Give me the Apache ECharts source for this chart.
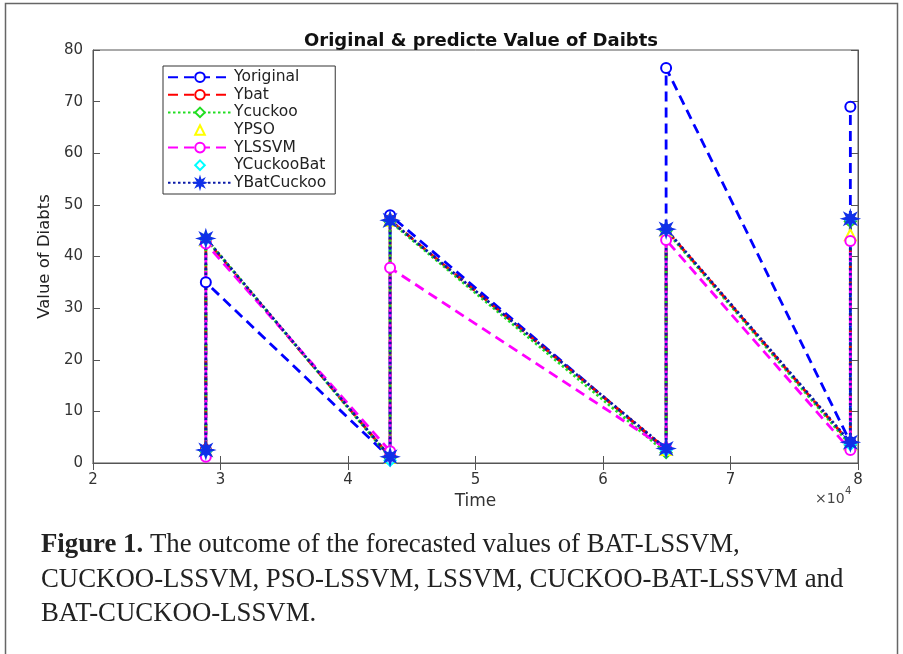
<!DOCTYPE html>
<html>
<head>
<meta charset="utf-8">
<script src="https://cdn.jsdelivr.net/npm/echarts@6/dist/echarts.min.js"></script>
<style>
  html, body { margin: 0; padding: 0; background: #fff; }
  #chart { width: 903px; height: 654px; }
</style>
</head>
<body>
<div id="chart"></div>
<script>
// Sample times: each pair marks a jump (low value, then high value) at the same time
const times = [28850, 28850, 43300, 43300, 64950, 64950, 79400, 79400];

const yOriginal   = [2.5, 35.0, 1.0, 48.0, 2.5, 76.5, 4.0, 69.0];
const yBat        = [2.5, 43.3, 1.2, 47.0, 2.7, 45.2, 3.8, 47.0];
const yCuckoo     = [2.3, 43.5, 1.0, 46.8, 2.0, 45.0, 3.5, 46.8];
const yPSO        = [2.4, 43.2, 1.1, 47.0, 2.6, 45.0, 3.7, 44.2];
const yLSSVM      = [1.2, 42.5, 2.3, 37.8, 2.8, 43.2, 2.5, 43.0];
const yCuckooBat  = [2.4, 43.4, 0.5, 47.0, 2.5, 45.3, 3.6, 47.2];
const yBatCuckoo  = [2.5, 43.5, 1.2, 47.0, 2.8, 45.3, 4.0, 47.3];

const xTicks = [2, 3, 4, 5, 6, 7, 8];          // in units of 10^4
const yTicks = [0, 10, 20, 30, 40, 50, 60, 70, 80];

const pairs = vals => times.map((t, i) => [t, vals[i]]);

// eight-pointed filled star for the asterisk marker
const STAR = 'path://M10 0 L4.2 1.7 L7.07 7.07 L1.7 4.2 L0 10 L-1.7 4.2 L-7.07 7.07 L-4.2 1.7 L-10 0 L-4.2 -1.7 L-7.07 -7.07 L-1.7 -4.2 L0 -10 L1.7 -4.2 L7.07 -7.07 L4.2 -1.7 Z';

const DASH = [10, 6];
const DOT = [2.5, 2.5];

const seriesDefs = [
  { name: 'Yoriginal',  data: yOriginal,  color: '#0000ff', dash: DASH, symbol: 'emptyCircle',  size: 10, line: true },
  { name: 'Ybat',       data: yBat,       color: '#ff0000', dash: DASH, symbol: 'emptyCircle',  size: 10, line: true },
  { name: 'Ycuckoo',    data: yCuckoo,    color: '#22dd22', dash: DOT,  symbol: 'emptyDiamond', size: 11, line: true },
  { name: 'YPSO',       data: yPSO,       color: '#ffff00', dash: 'solid', symbol: 'emptyTriangle', size: 11, line: false },
  { name: 'YLSSVM',     data: yLSSVM,     color: '#ff00ff', dash: DASH, symbol: 'emptyCircle',  size: 10, line: true },
  { name: 'YCuckooBat', data: yCuckooBat, color: '#00ffff', dash: 'solid', symbol: 'emptyDiamond', size: 11, line: false },
  { name: 'YBatCuckoo', data: yBatCuckoo, color: '#0a1aa8', dash: DOT,  symbol: STAR, size: 13, line: true, markerColor: '#1030e8' }
];

const series = seriesDefs.map(d => ({
  name: d.name,
  type: 'line',
  data: pairs(d.data),
  symbol: d.symbol,
  symbolSize: d.size,
  showAllSymbol: true,
  animation: false,
  itemStyle: {
    color: d.markerColor || d.color,
    borderColor: d.markerColor || d.color,
    borderWidth: 2.4
  },
  lineStyle: {
    color: d.color,
    width: d.line ? 2.8 : 0,
    opacity: d.line ? 1 : 0,
    type: d.dash
  },
  emphasis: { disabled: true }
}));

const FONT = '"DejaVu Sans", Verdana, sans-serif';
const axisFont = { fontFamily: FONT, fontSize: 15, color: '#333' };

const chart = echarts.init(document.getElementById('chart'), null, { renderer: 'canvas' });
chart.setOption({
  backgroundColor: '#fff',
  animation: false,
  title: {
    text: 'Original & predicte Value of Daibts',
    left: 476, top: 27, textAlign: 'center',
    textStyle: { fontFamily: FONT, fontSize: 18, fontWeight: 'bold', color: '#111' }
  },
  legend: {
    orient: 'vertical',
    left: 163, top: 66,
    padding: [3, 9, 3, 4],
    itemWidth: 64, itemHeight: 12, itemGap: 1.2,
    borderColor: '#333', borderWidth: 1,
    backgroundColor: '#fff',
    textStyle: { fontFamily: FONT, fontSize: 15.5, lineHeight: 16.4, color: '#222', padding: [0, 0, 0, -3] },
    data: seriesDefs.map(d => d.name)
  },
  grid: { left: 93, right: 45, top: 50, bottom: 191, show: true, borderColor: '#555', borderWidth: 1, backgroundColor: '#fff' },
  xAxis: [{
    type: 'value', min: 20000, max: 80000, interval: 10000,
    axisLine: { show: true, onZero: false, lineStyle: { color: '#555' } },
    axisTick: { show: true, inside: true, length: 7, lineStyle: { color: '#555' } },
    splitLine: { show: false },
    axisLabel: Object.assign({ margin: 10, formatter: v => String(xTicks[Math.round(v / 10000) - 2]) }, axisFont),
    name: 'Time', nameLocation: 'middle', nameGap: 27,
    nameTextStyle: { fontFamily: FONT, fontSize: 17, color: '#333' }
  }, {
    type: 'value', min: 20000, max: 80000, interval: 10000, position: 'top',
    axisLine: { show: true, lineStyle: { color: '#555' } },
    axisTick: { show: true, inside: true, length: 7, lineStyle: { color: '#555' } },
    axisLabel: { show: false }, splitLine: { show: false }
  }],
  yAxis: [{
    type: 'value', min: 0, max: 80, interval: 10,
    axisLine: { show: true, lineStyle: { color: '#555' } },
    axisTick: { show: true, inside: true, length: 7, lineStyle: { color: '#555' } },
    splitLine: { show: false },
    axisLabel: Object.assign({ margin: 10, formatter: v => String(yTicks[Math.round(v / 10)]) }, axisFont),
    name: 'Value of Diabts', nameLocation: 'middle', nameGap: 40, nameRotate: 90,
    nameTextStyle: { fontFamily: FONT, fontSize: 16.5, color: '#222' }
  }, {
    type: 'value', min: 0, max: 80, interval: 10, position: 'right',
    axisLine: { show: true, lineStyle: { color: '#555' } },
    axisTick: { show: true, inside: true, length: 7, lineStyle: { color: '#555' } },
    axisLabel: { show: false }, splitLine: { show: false }
  }],
  series: series,
  graphic: [
    { type: 'rect', shape: { x: 5.5, y: 3.5, width: 892, height: 660 }, style: { fill: 'none', stroke: '#666', lineWidth: 1.5 }, silent: true, z: -10 },
    { type: 'text', left: 815, top: 492, style: { text: '×10', fontFamily: FONT, fontSize: 14, fill: '#444' } },
    { type: 'text', left: 845, top: 486, style: { text: '4', fontFamily: FONT, fontSize: 10, fill: '#444' } },
    {
      type: 'text', left: 41, top: 528,
      style: {
        text: '{b|Figure 1.} The outcome of the forecasted values of BAT-LSSVM,\nCUCKOO-LSSVM, PSO-LSSVM, LSSVM, CUCKOO-BAT-LSSVM and\nBAT-CUCKOO-LSSVM.',
        fontFamily: '"Liberation Serif", "Times New Roman", serif', fontSize: 26.8, lineHeight: 34.5, fill: '#222',
        rich: { b: { fontWeight: 'bold', fontFamily: '"Liberation Serif", "Times New Roman", serif', fontSize: 26.8, lineHeight: 34.5, fill: '#222' } }
      }
    }
  ]
});
</script>
</body>
</html>
